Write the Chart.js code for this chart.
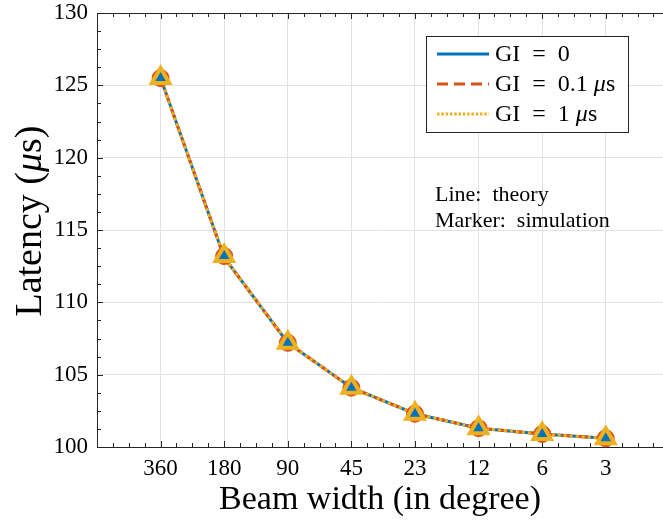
<!DOCTYPE html>
<html><head><meta charset="utf-8">
<script src="https://cdn.jsdelivr.net/npm/chart.js@4/dist/chart.umd.min.js"></script>
<style>html,body{margin:0;padding:0;background:#fff}canvas{display:block}</style>
</head><body>
<canvas id="c" width="663" height="522"></canvas>
<script>
// ---- data ----
const categories = ['360', '180', '90', '45', '23', '12', '6', '3'];
const theoryGI0  = [125.5, 113.1, 107.2, 104.1, 102.3, 101.3, 100.9, 100.6];
const theoryGI01 = [125.5, 113.1, 107.2, 104.1, 102.3, 101.3, 100.9, 100.6];
const theoryGI1  = [125.5, 113.1, 107.2, 104.1, 102.3, 101.3, 100.9, 100.6];
const simGI0     = [125.5, 113.2, 107.2, 104.1, 102.3, 101.3, 100.9, 100.6];
const simGI01    = [125.5, 113.2, 107.2, 104.1, 102.3, 101.3, 100.9, 100.6];
const simGI1     = [125.5, 113.2, 107.2, 104.1, 102.3, 101.3, 100.9, 100.6];
const yTicks = [100, 105, 110, 115, 120, 125, 130];
const seriesNames = ['GI = 0', 'GI = 0.1 μs', 'GI = 1 μs'];

const BLUE = '#0072BD', RED = '#D95319', YEL = '#EDB120';
const SERIF = '"Liberation Serif", "Times New Roman", serif';
const toXY = arr => arr.map((v, i) => ({x: i + 1, y: v}));

const X_MAX = 8.9;

const datasets = [
  {label: seriesNames[0], data: toXY(theoryGI0), borderColor: BLUE, borderWidth: 3, pointRadius: 0, order: 6, fill: false, clip: false},
  {label: seriesNames[1], data: toXY(theoryGI01), borderColor: RED, borderWidth: 3, borderDash: [10, 6], pointRadius: 0, order: 5, fill: false, clip: false},
  {label: seriesNames[2], data: toXY(theoryGI1), borderColor: YEL, borderWidth: 3, borderDash: [3, 3], pointRadius: 0, order: 4, fill: false, clip: false},
  {label: 'sim ' + seriesNames[1], data: toXY(simGI01), showLine: false, pointStyle: 'circle', pointRadius: 8.5, pointBackgroundColor: RED, pointBorderColor: RED, pointBorderWidth: 1, order: 3, clip: false},
  {label: 'sim ' + seriesNames[0], data: toXY(simGI0), showLine: false, pointStyle: 'triangle', pointRadius: 8, pointBackgroundColor: BLUE, pointBorderColor: BLUE, pointBorderWidth: 1, order: 2, clip: false},
  {label: 'sim ' + seriesNames[2], data: toXY(simGI1), showLine: false, pointStyle: 'triangle', pointRadius: 10, pointBackgroundColor: 'rgba(0,0,0,0)', pointBorderColor: YEL, pointBorderWidth: 4, order: 1, clip: false}
];

function drawParts(ctx, parts, x, y, size) {
  let tx = x;
  parts.forEach(([t, it]) => {
    ctx.font = (it ? 'italic ' : '') + size + 'px ' + SERIF;
    ctx.fillText(t, tx, y);
    tx += ctx.measureText(t).width;
  });
}
function partsWidth(ctx, parts, size) {
  let w = 0;
  parts.forEach(([t, it]) => {
    ctx.font = (it ? 'italic ' : '') + size + 'px ' + SERIF;
    w += ctx.measureText(t).width;
  });
  return w;
}

const axesPlugin = {
  id: 'axesDeco',
  beforeDatasetsDraw(chart) {
    const {ctx, chartArea: a, scales: {x, y}} = chart;
    ctx.save();
    ctx.strokeStyle = '#262626';
    ctx.lineWidth = 1;
    ctx.beginPath();
    ctx.moveTo(a.left, a.top + 0.5); ctx.lineTo(a.right, a.top + 0.5);
    for (let k = 0; k * 0.25 <= X_MAX + 1e-9; k++) {
      const px = Math.round(x.getPixelForValue(k * 0.25)) + 0.5;
      const len = (k % 4 === 0) ? 6 : 4;
      ctx.moveTo(px, a.bottom); ctx.lineTo(px, a.bottom - len);
      ctx.moveTo(px, a.top); ctx.lineTo(px, a.top + len);
    }
    for (let k = 0; k <= 24; k++) {
      const py = Math.round(y.getPixelForValue(100 + k * 1.25)) + 0.5;
      const len = (k % 4 === 0) ? 6 : 4;
      ctx.moveTo(a.left, py); ctx.lineTo(a.left + len, py);
    }
    ctx.stroke();
    ctx.restore();
  },
  afterDraw(chart) {
    const {ctx} = chart;
    ctx.save();
    // y axis title (rotated, italic mu)
    const yParts = [['Latency (', false], ['μ', true], ['s)', false]];
    ctx.save();
    ctx.fillStyle = '#000';
    ctx.textBaseline = 'middle';
    ctx.translate(31, 221);
    ctx.rotate(-Math.PI / 2);
    drawParts(ctx, yParts, -partsWidth(ctx, yParts, 38) / 2, 0, 38);
    ctx.restore();
    // legend
    const bx = 426.5, by = 36.5, bw = 202, bh = 96;
    ctx.fillStyle = '#fff';
    ctx.fillRect(bx, by, bw, bh);
    ctx.strokeStyle = '#262626';
    ctx.lineWidth = 1;
    ctx.strokeRect(bx, by, bw, bh);
    const rows = [
      {y: 54, color: BLUE, dash: [], parts: [['GI\u2002=\u20020', false]]},
      {y: 84, color: RED, dash: [11, 6], parts: [['GI\u2002=\u20020.1 ', false], ['μ', true], ['s', false]]},
      {y: 114, color: YEL, dash: [2.5, 1.8], parts: [['GI\u2002=\u20021 ', false], ['μ', true], ['s', false]]}
    ];
    rows.forEach(r => {
      ctx.beginPath();
      ctx.setLineDash(r.dash);
      ctx.strokeStyle = r.color;
      ctx.lineWidth = 3;
      ctx.moveTo(437, r.y); ctx.lineTo(489, r.y);
      ctx.stroke();
      ctx.setLineDash([]);
      ctx.fillStyle = '#000';
      ctx.textBaseline = 'middle';
      drawParts(ctx, r.parts, 495, r.y + 1, 24);
    });
    // note
    ctx.font = '22px ' + SERIF;
    ctx.textBaseline = 'alphabetic';
    ctx.fillText('Line:  theory', 435, 201);
    ctx.fillText('Marker:  simulation', 435, 227);
    ctx.restore();
  }
};

new Chart(document.getElementById('c'), {
  type: 'line',
  data: {datasets},
  plugins: [axesPlugin],
  options: {
    responsive: false,
    devicePixelRatio: 1,
    animation: false,
    layout: {autoPadding: false, padding: {top: 13, right: 0, left: 0, bottom: 0}},
    plugins: {legend: {display: false}, tooltip: {enabled: false}},
    elements: {line: {tension: 0, borderCapStyle: 'butt'}},
    scales: {
      x: {
        type: 'linear', min: 0, max: X_MAX,
        afterBuildTicks: s => { s.ticks = categories.map((c, i) => ({value: i + 1})); },
        afterFit: s => { s.height = 75; s.paddingLeft = 0; s.paddingRight = 0; },
        ticks: {callback: v => categories[v - 1] ?? '', color: '#000', font: {family: SERIF, size: 23}, padding: 8, maxRotation: 0, autoSkip: false},
        grid: {color: '#e1e1e1', lineWidth: 1, drawTicks: false},
        border: {color: '#262626', width: 1},
        title: {display: true, text: 'Beam width (in degree)', color: '#000', font: {family: SERIF, size: 34}, padding: {top: 0, bottom: 2}}
      },
      y: {
        type: 'linear', min: 100, max: 130,
        afterBuildTicks: s => { s.ticks = yTicks.map(v => ({value: v})); },
        afterFit: s => { s.width = 97; s.paddingTop = 0; s.paddingBottom = 0; },
        ticks: {color: '#000', font: {family: SERIF, size: 23}, padding: 9},
        grid: {color: '#e1e1e1', lineWidth: 1, drawTicks: false},
        border: {color: '#262626', width: 1},
        title: {display: false}
      }
    }
  }
});
</script>
</body></html>
